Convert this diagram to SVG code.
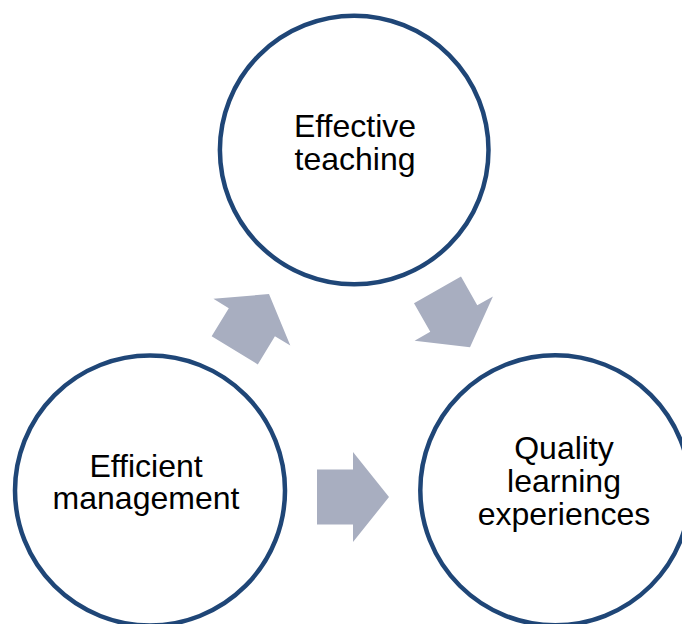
<svg xmlns="http://www.w3.org/2000/svg" width="682" height="624" viewBox="0 0 682 624">
<style>
.node{fill:#FFFFFF;stroke:#1F4677;stroke-width:4.5}
.lbl{font-family:"Liberation Sans",Arial,sans-serif;font-size:32px;fill:#000000;text-anchor:middle}
.arr{fill:#A8AEC0;stroke:none}
</style>
<rect width="682" height="624" fill="#FFFFFF"/>
<g id="connectors">
<path class="arr" transform="translate(269,294) rotate(-58.7)" d="M-66,-27 L-33,-27 L-33,-45 L0,0 L-33,45 L-33,27 L-66,27 Z"/>
<path class="arr" transform="translate(470,347.3) rotate(60.5)" d="M-66,-27 L-33,-27 L-33,-45 L0,0 L-33,45 L-33,27 L-66,27 Z"/>
<path class="arr" transform="translate(389,497)" d="M-72,-27.5 L-36,-27.5 L-36,-45 L0,0 L-36,45 L-36,27.5 L-72,27.5 Z"/>
</g>
<g id="node-teaching">
<circle class="node" cx="354.2" cy="150" r="134.3"/>
<text class="lbl" x="355" y="137">Effective</text>
<text class="lbl" x="355" y="170">teaching</text>
</g>
<g id="node-management">
<circle class="node" cx="150" cy="490.5" r="135"/>
<text class="lbl" x="146" y="476.5">Efficient</text>
<text class="lbl" x="146" y="509">management</text>
</g>
<g id="node-quality">
<circle class="node" cx="555.3" cy="490.3" r="135"/>
<text class="lbl" x="564" y="459">Quality</text>
<text class="lbl" x="564" y="492">learning</text>
<text class="lbl" x="564" y="525">experiences</text>
</g>
</svg>
